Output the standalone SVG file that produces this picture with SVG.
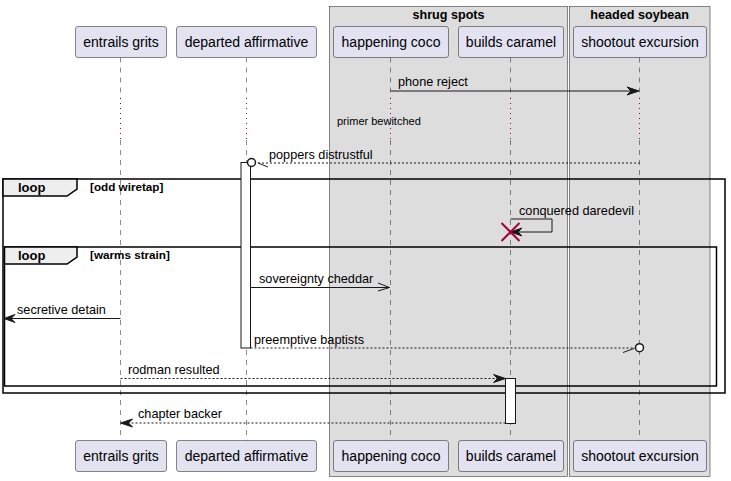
<svg xmlns="http://www.w3.org/2000/svg" width="731" height="481" viewBox="0 0 731 481">
<style>
.grp{fill:#DDDDDD;stroke:#181818;stroke-width:0.5}
.gt{font-family:"Liberation Sans",Arial,sans-serif;font-size:12.6px;font-weight:bold;fill:#000;text-anchor:middle}
.life{stroke:#181818;stroke-width:0.5;stroke-dasharray:5,5;fill:none}
.delay{stroke:#A80036;stroke-width:1;stroke-dasharray:1,4;fill:none}
.pbox{fill:#E2E2F0;stroke:#181818;stroke-width:0.5}
.pt{font-family:"Liberation Sans",Arial,sans-serif;font-size:14px;fill:#000;text-anchor:middle}
.act{fill:#FFFFFF;stroke:#181818;stroke-width:1}
.msg{stroke:#181818;stroke-width:1;fill:none}
.dash{stroke-dasharray:2,2}
.head{fill:#181818;stroke:#181818;stroke-width:1}
.ml{font-family:"Liberation Sans",Arial,sans-serif;font-size:12.7px;fill:#000}
.note{font-family:"Liberation Sans",Arial,sans-serif;font-size:11px;fill:#000}
.loop{fill:none;stroke:#000;stroke-width:1.5}
.tab{fill:#EEEEEE;stroke:#000;stroke-width:1.5}
.lt{font-family:"Liberation Sans",Arial,sans-serif;font-size:13px;font-weight:bold;fill:#000}
.lc{font-family:"Liberation Sans",Arial,sans-serif;font-size:11.7px;font-weight:bold;fill:#000}
</style>
<g id="box-shrug-spots">
<rect class="grp" x="329.5" y="6.5" width="238" height="470"/>
<text class="gt" x="448.5" y="19">shrug spots</text>
</g>
<g id="box-headed-soybean">
<rect class="grp" x="569.5" y="6.5" width="140.5" height="470"/>
<text class="gt" x="639.7" y="19">headed soybean</text>
</g>
<g id="lifelines">
<path class="life" d="M120.5,57.5 V98 M120.5,140 V440.5"/>
<path class="delay" d="M120.5,98 V140"/>
<path class="life" d="M246.5,57.5 V98 M246.5,140 V440.5"/>
<path class="delay" d="M246.5,98 V140"/>
<path class="life" d="M390.5,57.5 V98 M390.5,140 V440.5"/>
<path class="delay" d="M390.5,98 V140"/>
<path class="life" d="M510.5,57.5 V98 M510.5,140 V440.5"/>
<path class="delay" d="M510.5,98 V140"/>
<path class="life" d="M639.5,57.5 V98 M639.5,140 V440.5"/>
<path class="delay" d="M639.5,98 V140"/>
</g>
<g id="p-entrails-grits">
<rect class="pbox" x="75.5" y="26.5" width="91" height="31" rx="2.5"/>
<text class="pt" x="121" y="47">entrails grits</text>
<rect class="pbox" x="75.5" y="440.5" width="91" height="31" rx="2.5"/>
<text class="pt" x="121" y="461">entrails grits</text>
</g>
<g id="p-departed-affirmative">
<rect class="pbox" x="176.5" y="26.5" width="140" height="31" rx="2.5"/>
<text class="pt" x="246.5" y="47">departed affirmative</text>
<rect class="pbox" x="176.5" y="440.5" width="140" height="31" rx="2.5"/>
<text class="pt" x="246.5" y="461">departed affirmative</text>
</g>
<g id="p-happening-coco">
<rect class="pbox" x="333.5" y="26.5" width="115" height="31" rx="2.5"/>
<text class="pt" x="391" y="47">happening coco</text>
<rect class="pbox" x="333.5" y="440.5" width="115" height="31" rx="2.5"/>
<text class="pt" x="391" y="461">happening coco</text>
</g>
<g id="p-builds-caramel">
<rect class="pbox" x="458.5" y="26.5" width="105" height="31" rx="2.5"/>
<text class="pt" x="511" y="47">builds caramel</text>
<rect class="pbox" x="458.5" y="440.5" width="105" height="31" rx="2.5"/>
<text class="pt" x="511" y="461">builds caramel</text>
</g>
<g id="p-shootout-excursion">
<rect class="pbox" x="573.5" y="26.5" width="133" height="31" rx="2.5"/>
<text class="pt" x="640" y="47">shootout excursion</text>
<rect class="pbox" x="573.5" y="440.5" width="133" height="31" rx="2.5"/>
<text class="pt" x="640" y="461">shootout excursion</text>
</g>
<g id="loop-odd-wiretap">
<rect class="loop" x="3" y="179" width="722" height="214"/>
<path class="tab" d="M3,179 H77 V189 L67,196 H3 Z"/>
<text class="lt" x="18" y="192">loop</text>
<text class="lc" x="90" y="191">[odd wiretap]</text>
</g>
<g id="loop-warms-strain">
<rect class="loop" x="4.5" y="247" width="712" height="139"/>
<path class="tab" d="M4.5,247 H77 V257 L67,264 H4.5 Z"/>
<text class="lt" x="18" y="260">loop</text>
<text class="lc" x="90" y="259">[warms strain]</text>
</g>
<g id="activations">
<rect class="act" x="241" y="162.5" width="9.5" height="185.5"/>
<rect class="act" x="505.5" y="378.5" width="10" height="45"/>
</g>
<g id="connectors">
<line class="msg" x1="390.5" y1="91" x2="637" y2="91"/>
<polygon class="head" points="627,87 639,91 627,95 631,91"/>
<text class="ml" x="398" y="86">phone reject</text>

<text class="note" x="337" y="125">primer bewitched</text>

<line class="msg dash" x1="258" y1="163" x2="639.5" y2="163"/>
<line class="msg" x1="258" y1="163" x2="268" y2="167"/>
<circle cx="251.5" cy="162.5" r="4" fill="#FFFFFF" stroke="#181818" stroke-width="1.5"/>
<text class="ml" x="269" y="159">poppers distrustful</text>

<path class="msg" d="M510.5,219 H552 V232 H512"/>
<polygon class="head" points="522,228 510.5,232 522,236 518,232"/>
<text class="ml" x="519" y="215">conquered daredevil</text>
<path d="M501.5,223 L519.5,241 M519.5,223 L501.5,241" stroke="#A80036" stroke-width="2" fill="none"/>

<line class="msg" x1="250.5" y1="287.5" x2="389.5" y2="287.5"/>
<path class="msg" d="M378,283 L389.5,287.5 L378,291"/>
<text class="ml" x="259" y="283">sovereignty cheddar</text>

<line class="msg" x1="120.5" y1="318.5" x2="6" y2="318.5"/>
<polygon class="head" points="15,314.5 4,318.5 15,322.5 11,318.5"/>
<text class="ml" x="17" y="314">secretive detain</text>

<line class="msg dash" x1="250.5" y1="348" x2="635" y2="348"/>
<line class="msg" x1="623" y1="352.5" x2="634" y2="348.5"/>
<circle cx="639.5" cy="347.7" r="4" fill="#FFFFFF" stroke="#181818" stroke-width="1.5"/>
<text class="ml" x="254" y="344">preemptive baptists</text>

<line class="msg dash" x1="120.5" y1="378.5" x2="503" y2="378.5"/>
<polygon class="head" points="493.5,374.5 505.5,378.5 493.5,382.5 497.5,378.5"/>
<text class="ml" x="128" y="374">rodman resulted</text>

<line class="msg dash" x1="505.5" y1="423" x2="123" y2="423"/>
<polygon class="head" points="132.5,419 120.5,423 132.5,427 128.5,423"/>
<text class="ml" x="138" y="418">chapter backer</text>
</g>
</svg>
